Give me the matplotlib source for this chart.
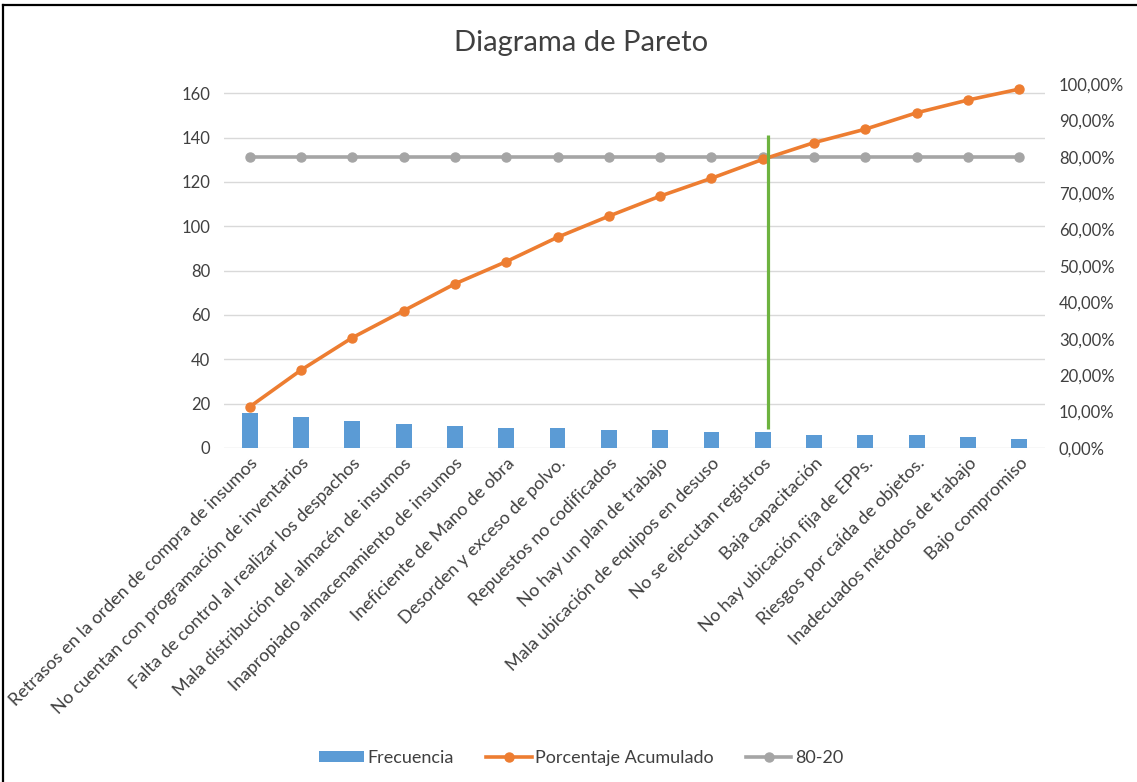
import matplotlib
matplotlib.use("Agg")
import matplotlib.pyplot as plt
import numpy as np
from matplotlib.ticker import FuncFormatter
from matplotlib.lines import Line2D

plt.rcParams['font.family'] = ['Lato', 'DejaVu Sans']

categories = [
    "Retrasos en la orden de compra de insumos",
    "No cuentan con programación de inventarios",
    "Falta de control al realizar los despachos",
    "Mala distribución del almacén de insumos",
    "Inapropiado almacenamiento de insumos",
    "Ineficiente de Mano de obra",
    "Desorden y exceso de polvo.",
    "Repuestos no codificados",
    "No hay un plan de trabajo",
    "Mala ubicación de equipos en desuso",
    "No se ejecutan registros",
    "Baja capacitación",
    "No hay ubicación fija de EPPs.",
    "Riesgos por caída de objetos.",
    "Inadecuados métodos de trabajo",
    "Bajo compromiso",
]
frecuencia = [16, 14, 12, 11, 10, 9, 9, 8, 8, 7, 7, 6, 6, 6, 5, 4]
porcentaje_acumulado = [0.113, 0.214, 0.303, 0.377, 0.451, 0.512, 0.579, 0.637,
                        0.692, 0.741, 0.793, 0.839, 0.876, 0.921, 0.956, 0.986]
linea_80_20 = [0.80] * 16
corte_x = 10.1
corte_rango = (0.051, 0.86)

left_ticks = list(range(0, 161, 20))
right_ticks = [i / 10 for i in range(0, 11)]

W, H = 1137, 782
fig = plt.figure(figsize=(W / 100, H / 100), dpi=100)
fig.patch.set_facecolor("white")
ax = fig.add_axes([224 / W, 1 - 448 / H, (1045 - 224) / W, (448 - 84) / H])
ax2 = ax.twinx()

txt = "#404040"
x = np.arange(len(categories))

bars = ax.bar(x, frecuencia, width=0.31, color="#5B9BD5", zorder=2, label="Frecuencia")
ax.set_xlim(-0.5, len(categories) - 0.5)
ax.set_ylim(0, 164.2)
ax.set_yticks(left_ticks)
ax.yaxis.grid(True, color="#D9D9D9", lw=1.0, zorder=0)
ax.set_axisbelow(True)
for s in ax.spines.values():
    s.set_visible(False)
ax.tick_params(axis="y", length=0, pad=10, labelsize=12, labelcolor=txt)
ax.tick_params(axis="x", length=0, pad=5)
ax.set_xticks(x)
ax.set_xticklabels(categories, rotation=45, ha="right", va="top",
                   rotation_mode="anchor", fontsize=13, color=txt)

l1, = ax2.plot(x, porcentaje_acumulado, color="#ED7D31", lw=2.6, marker="o",
               markersize=6.5, zorder=3, label="Porcentaje Acumulado")
l2, = ax2.plot(x, linea_80_20, color="#A5A5A5", lw=2.6, marker="o",
               markersize=6.5, zorder=2, label="80-20")
ax2.vlines(corte_x, corte_rango[0], corte_rango[1], color="#6DB33F", lw=2.3, zorder=4)
ax2.set_ylim(0, 1.0)
ax2.set_yticks(right_ticks)
ax2.yaxis.set_major_formatter(FuncFormatter(lambda v, p: f"{v*100:.2f}%".replace(".", ",")))
for s in ax2.spines.values():
    s.set_visible(False)
ax2.tick_params(axis="y", length=0, pad=10, labelsize=12, labelcolor=txt)

fig.text(581 / W, 1 - 43 / H, "Diagrama de Pareto", ha="center", va="center",
         fontsize=21, color=txt)

fig.legend(handles=[bars, l1, l2], loc="center", bbox_to_anchor=(581 / W, 1 - 758 / H),
           ncol=3, frameon=False, fontsize=13, handlelength=2.5, handleheight=0.6,
           columnspacing=1.8, handletextpad=0.2, labelcolor=txt)

fig.add_artist(Line2D([3 / W, 3 / W], [0, 1 - 5 / H], color="black", lw=1.6))
fig.add_artist(Line2D([3 / W, 1], [1 - 5 / H, 1 - 5 / H], color="black", lw=1.6))

fig.savefig("out.png", dpi=100, facecolor="white")
